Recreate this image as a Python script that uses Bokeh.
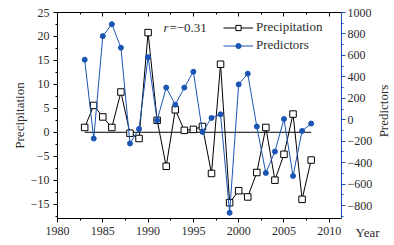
import numpy as np
from bokeh.plotting import figure
from bokeh.models import Range1d, LinearAxis, FixedTicker, Label, Legend, LegendItem, Title
from bokeh.embed import file_html
from bokeh.resources import INLINE

years = list(range(1983, 2009))
precipitation = [1.0, 5.6, 3.2, 1.0, 8.4, -0.2, -1.3, 20.8, 2.5, -7.1, 4.7, 0.4,
                 0.6, 1.2, -8.6, 14.2, -14.7, -12.2, -13.5, -8.4, 1.0, -10.0,
                 -4.6, 3.8, -14.0, -5.8]
predictors = [560, -175, 780, 891, 672, -221, -85, 584, -5, 300, 141, 300,
              448, -113, 17, 51, -867, 330, 430, -63, -495, -296, 7, -523,
              -104, -35]

x_major = [1980, 1985, 1990, 1995, 2000, 2005, 2010]
x_minor = [1980 + 2.5 * i for i in range(13)]
left_major = [-15, -10, -5, 0, 5, 10, 15, 20, 25]
left_minor = [-17.5 + 2.5 * i for i in range(18)]
right_major = [-800, -600, -400, -200, 0, 200, 400, 600, 800, 1000]
right_minor = [-900 + 100 * i for i in range(20)]
r_text = "=\u22120.31"

FONT = "Liberation Serif"
TXT = "#2b2b2b"
BLUE = "#1a55b3"

p = figure(width=394, height=245, x_range=Range1d(1980, 2011.35),
           y_range=Range1d(-18, 25), output_backend="svg",
           toolbar_location=None, min_border_left=57, min_border_right=53,
           min_border_top=12, min_border_bottom=27, outline_line_color=None)
p.extra_y_ranges = {"pred": Range1d(-920, 1000)}
p.xgrid.visible = False
p.ygrid.visible = False
p.background_fill_color = "white"
p.border_fill_color = "white"

def mfmt(v):
    s = ("%g" % v)
    return s.replace("-", "\u2212")

def style(ax, major, minor, color="black", tin=0, tout=4, mtin=0, mtout=2):
    ax.ticker = FixedTicker(ticks=major, minor_ticks=minor)
    ax.axis_line_color = color
    ax.major_tick_line_color = color
    ax.minor_tick_line_color = color
    ax.major_tick_in = tin
    ax.major_tick_out = tout
    ax.minor_tick_in = mtin
    ax.minor_tick_out = mtout
    ax.major_label_text_font = FONT
    ax.major_label_text_font_size = "12px"
    ax.major_label_text_color = TXT
    ax.major_label_overrides = {v: mfmt(v) for v in major}
    ax.axis_label_text_font = FONT
    ax.axis_label_text_font_size = "13px"
    ax.axis_label_text_font_style = "normal"
    ax.axis_label_text_color = TXT

xb = p.below[0]
style(xb, x_major, x_minor)
xb.major_label_standoff = 4

yl = p.left[0]
style(yl, left_major, left_minor)
yl.axis_label = "Precipitation"
yl.axis_label_standoff = 1
yl.major_label_standoff = 4

top = LinearAxis()
style(top, x_major, x_minor, tin=4, tout=0, mtin=2, mtout=0)
top.major_label_overrides = {v: "" for v in x_major}
p.add_layout(top, "above")

yr = LinearAxis(y_range_name="pred")
style(yr, right_major, right_minor, color=BLUE)
yr.major_label_standoff = 2
p.add_layout(yr, "right")

# right-hand axis title, placed in the right panel
p.add_layout(Label(x=8, y=107.5, x_units="screen", y_units="screen",
                   text="Predictors", angle=np.pi / 2, text_font=FONT,
                   text_font_size="13px", text_color=TXT,
                   text_baseline="middle", text_align="center"), "right")

# "Year" beside the x tick labels
p.add_layout(Title(text="Year", align="right", offset=-38, standoff=-25,
                   vertical_align="top",
                   text_font=FONT, text_font_size="13px",
                   text_font_style="normal", text_color=TXT), "below")

# zero line
p.line([years[0], years[-1]], [0, 0], line_color="black", line_width=1)

l1 = p.line(years, precipitation, line_color="black", line_width=1)
s1 = p.scatter(years, precipitation, marker="square", size=6.5,
               line_color="black", fill_color="white", line_width=1)
l2 = p.line(years, predictors, line_color=BLUE, line_width=1, y_range_name="pred")
s2 = p.scatter(years, predictors, marker="circle", size=5, line_color=BLUE,
               fill_color=BLUE, y_range_name="pred")

leg = Legend(items=[LegendItem(label="Precipitation", renderers=[l1, s1]),
                    LegendItem(label="Predictors", renderers=[l2, s2])],
             location=(166, 165), padding=4, spacing=2, label_height=13,
             glyph_height=13, glyph_width=30, label_standoff=3,
             border_line_color=None, background_fill_alpha=0, margin=0,
             label_text_font=FONT, label_text_font_size="13px",
             label_text_color=TXT)
p.add_layout(leg)

p.add_layout(Label(x=1991.7, y=21.9, text="r", text_font=FONT,
                   text_font_size="13px", text_font_style="italic",
                   text_color=TXT, text_baseline="middle", text_align="left"))
p.add_layout(Label(x=1992.35, y=21.9, text=r_text, text_font=FONT,
                   text_font_size="13px", text_color=TXT,
                   text_baseline="middle", text_align="left"))

open("out.html", "w").write(file_html(p, INLINE))
